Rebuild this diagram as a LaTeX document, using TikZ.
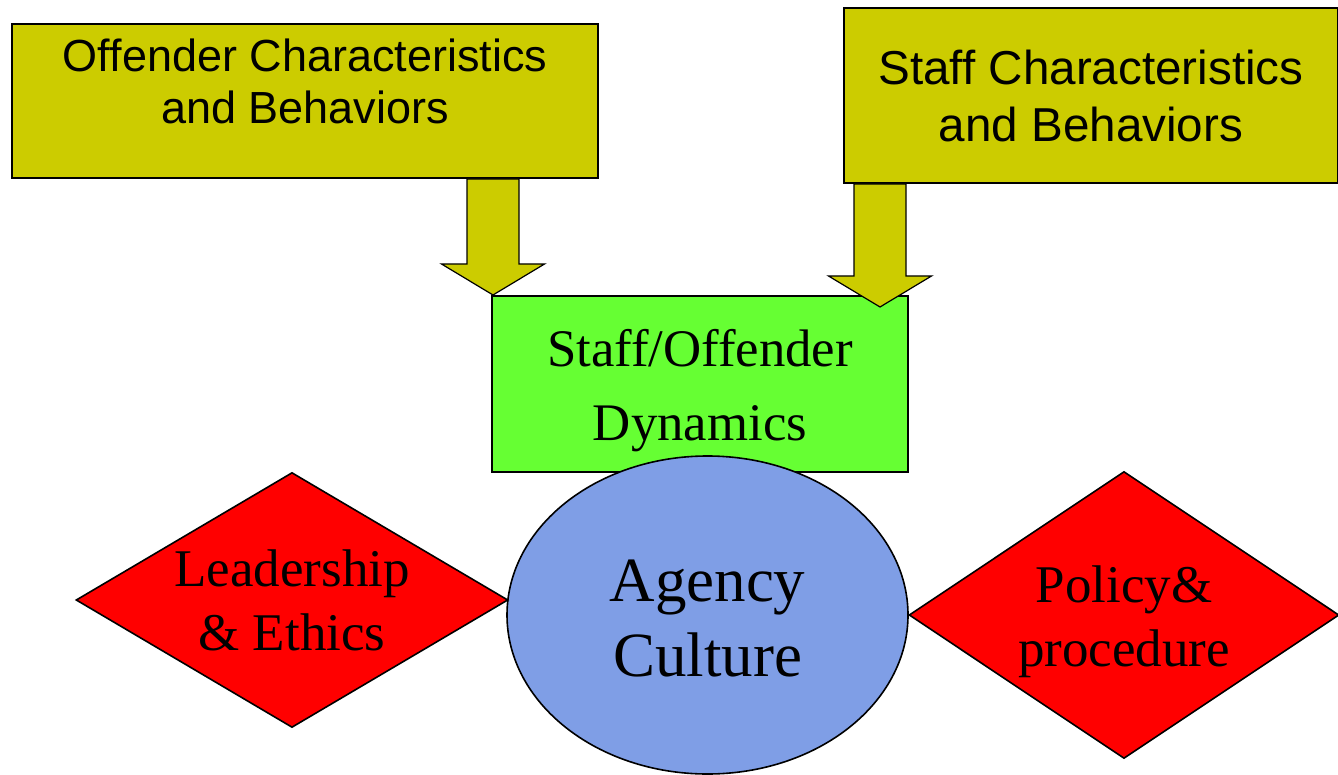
\documentclass[tikz,border=0pt]{standalone}
\usepackage{fontspec}
\setmainfont{Liberation Serif}
\setsansfont{Liberation Sans}
\usetikzlibrary{shapes.geometric,calc}
\definecolor{chargold}{RGB}{204,204,0}
\definecolor{dyngreen}{RGB}{102,255,51}
\definecolor{cultblue}{RGB}{127,158,230}
\definecolor{dimred}{RGB}{255,0,0}
% fat down arrow from #1 (top of shaft) to #2 (tip)
\newcommand{\fatarrow}[2]{%
  \draw[fill=chargold,line width=.6pt,line join=miter]
    ($(#1)+(-13pt,0pt)$) -- ($(#2)+(-13pt,15.5pt)$) -- ($(#2)+(-25.75pt,15.5pt)$)
    -- (#2) -- ($(#2)+(25.75pt,15.5pt)$) -- ($(#2)+(13pt,15.5pt)$)
    -- ($(#1)+(13pt,0pt)$) -- cycle;}

\begin{document}
\begin{tikzpicture}[x=0.5pt,y=-0.5pt,
  charbox/.style={draw,line width=1pt,fill=chargold,align=center,inner sep=0pt},
  dynbox/.style={draw,line width=1pt,fill=dyngreen,align=center,inner sep=0pt},
  culture/.style={ellipse,draw,line width=.8pt,fill=cultblue,align=center,inner sep=0pt},
  dimension/.style={diamond,draw,line width=.8pt,fill=dimred,align=center,inner sep=0pt}]
  \useasboundingbox (0,0) rectangle (1338,775);
  \node[charbox,minimum width=293pt,minimum height=77pt,text depth=20pt,
    font=\sffamily\fontsize{22.5}{26}\selectfont] (offender) at (305,101)
    {Offender Characteristics\\and Behaviors};
  \node[charbox,minimum width=247pt,minimum height=87.5pt,
    font=\sffamily\fontsize{23.8}{28.5}\selectfont] (staff) at (1091,95.5)
    {Staff Characteristics\\and Behaviors};
  \node[dynbox,minimum width=208pt,minimum height=88pt,text height=62pt,
    font=\fontsize{26.4}{37}\selectfont] (dyn) at (700,384)
    {Staff/Offender\\Dynamics};
  \node[culture,minimum width=200.5pt,minimum height=159pt,text height=61.7pt,
    font=\fontsize{31.5}{37.5}\selectfont] (agency) at (707.5,615)
    {Agency\\Culture};
  \node[dimension,minimum width=216pt,minimum height=127.5pt,aspect=1.69,
    font=\fontsize{26.5}{32}\selectfont] (leader) at (292,600)
    {Leadership\\\& Ethics};
  \node[dimension,minimum width=215pt,minimum height=143.5pt,aspect=1.5,text height=57pt,
    font=\fontsize{26.5}{32}\selectfont] (policy) at (1124,615)
    {Policy\&\\procedure};

  \coordinate (tipA) at ([xshift=1pt]dyn.north west);
  \coordinate (topA) at (offender.south -| tipA);
  \coordinate (tipB) at ([xshift=-14.5pt,yshift=-6pt]dyn.north east);
  \coordinate (topB) at (staff.south -| tipB);
  \fatarrow{topA}{tipA}
  \fatarrow{topB}{tipB}
\end{tikzpicture}
\end{document}
